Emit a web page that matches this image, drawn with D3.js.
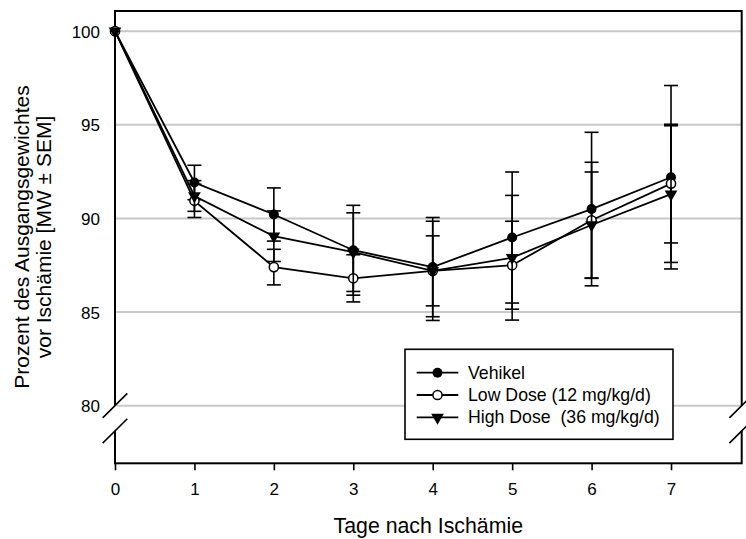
<!DOCTYPE html>
<html>
<head>
<meta charset="utf-8">
<script src="https://cdn.jsdelivr.net/npm/d3@7"></script>
<style>
  body { margin: 0; background: #fff; }
  svg text { font-family: "Liberation Sans", Arial, sans-serif; fill: #000; white-space: pre; }
</style>
</head>
<body>
<svg id="chart" width="746" height="539"></svg>
<script>
// days after ischemia
const days = [0, 1, 2, 3, 4, 5, 6, 7];

// body weight in percent of baseline (mean) and SEM per group
const vehikel     = [100, 91.92, 90.21, 88.30, 87.40, 88.98, 90.50, 92.20];
const vehikelSem  = [0, 0.92, 1.42, 2.40, 2.65, 3.50, 4.10, 4.90];
const lowDose     = [100, 90.94, 87.40, 86.80, 87.20, 87.50, 89.90, 91.86];
const lowDoseSem  = [0, 0.89, 0.95, 1.26, 1.87, 2.35, 3.10, 3.17];
const highDose    = [100, 91.20, 89.05, 88.20, 87.20, 87.90, 89.65, 91.30];
const highDoseSem = [0, 0.82, 1.35, 2.10, 2.65, 3.33, 2.83, 3.65];

const seriesNames = ["Vehikel", "Low Dose (12 mg/kg/d)", "High Dose  (36 mg/kg/d)"];
const yTicks = [80, 85, 90, 95, 100];
const xTicks = [0, 1, 2, 3, 4, 5, 6, 7];
// where the y axis is broken
const axisBreak = [80, 78.65];

const xLabel = "Tage nach Ischämie";
const yLabel = ["Prozent des Ausgangsgewichtes", "vor Ischämie [MW ± SEM]"];

const width = 746, height = 539;
const margin = { top: 11, right: 4.3, bottom: 75.7, left: 115 };

const svg = d3.select("#chart");

const x = d3.scaleLinear()
    .domain([0, 7.89])
    .range([margin.left, width - margin.right]);
const y = d3.scaleLinear()
    .domain([76.92, 101.08])
    .range([height - margin.bottom, margin.top]);

const series = [
    { name: seriesNames[0], values: vehikel, sem: vehikelSem, symbol: "filled" },
    { name: seriesNames[1], values: lowDose, sem: lowDoseSem, symbol: "open" },
    { name: seriesNames[2], values: highDose, sem: highDoseSem, symbol: "triangle" }
];

// gray gridlines
svg.append("g")
    .selectAll("line")
    .data(yTicks)
    .join("line")
    .attr("x1", x.range()[0])
    .attr("x2", x.range()[1])
    .attr("y1", d => y(d))
    .attr("y2", d => y(d))
    .attr("stroke", "#c8c8c8")
    .attr("stroke-width", 2);

// frame
svg.append("rect")
    .attr("x", x.range()[0])
    .attr("y", y.range()[1])
    .attr("width", x.range()[1] - x.range()[0])
    .attr("height", y.range()[0] - y.range()[1])
    .attr("fill", "none")
    .attr("stroke", "#000")
    .attr("stroke-width", 2);

// x axis, ticks point down
const xAxis = svg.append("g")
    .attr("transform", `translate(0,${y.range()[0]})`)
    .call(d3.axisBottom(x).tickValues(xTicks).tickSize(7).tickPadding(12.5).tickFormat(d3.format("d")));
xAxis.select(".domain").remove();
xAxis.selectAll(".tick line").attr("stroke-width", 1.6);
xAxis.selectAll("text").attr("font-size", "17px").attr("font-family", null);

// y axis labels only
const yAxis = svg.append("g")
    .attr("transform", `translate(${x.range()[0]},0)`)
    .call(d3.axisLeft(y).tickValues(yTicks).tickSize(0).tickPadding(15));
yAxis.select(".domain").remove();
yAxis.selectAll("text").attr("font-size", "17px").attr("font-family", null).attr("dy", "0.36em");

// axis breaks on both sides
const breakGap = svg.append("g");
[x.range()[0], x.range()[1]].forEach(bx => {
    breakGap.append("rect")
        .attr("x", bx - 2)
        .attr("y", y(axisBreak[0]))
        .attr("width", 4)
        .attr("height", y(axisBreak[1]) - y(axisBreak[0]))
        .attr("fill", "#fff");
    axisBreak.forEach(v => {
        breakGap.append("line")
            .attr("x1", bx - 12.3).attr("y1", y(v) + 12.2)
            .attr("x2", bx + 12.3).attr("y2", y(v) - 12.2)
            .attr("stroke", "#000")
            .attr("stroke-width", 1.6);
    });
});

const line = d3.line()
    .x((d, i) => x(days[i]))
    .y(d => y(d));

function drawSymbol(g, kind, cx, cy) {
    if (kind === "filled") {
        g.append("circle").attr("cx", cx).attr("cy", cy).attr("r", 5)
            .attr("fill", "#000");
    } else if (kind === "open") {
        g.append("circle").attr("cx", cx).attr("cy", cy).attr("r", 4.6)
            .attr("fill", "#fff").attr("stroke", "#000").attr("stroke-width", 1.5);
    } else {
        g.append("path")
            .attr("d", d3.symbol(d3.symbolTriangle, 70)())
            .attr("transform", `translate(${cx},${cy}) rotate(180)`)
            .attr("fill", "#000");
    }
}

const capHalf = 7;

series.forEach(s => {
    const g = svg.append("g");

    g.append("path")
        .datum(s.values)
        .attr("d", line)
        .attr("fill", "none")
        .attr("stroke", "#000")
        .attr("stroke-width", 1.8);

    // error bars with caps
    s.values.forEach((v, i) => {
        if (!s.sem[i]) return;
        const cx = x(days[i]);
        const top = y(v + s.sem[i]), bottom = y(v - s.sem[i]);
        g.append("line")
            .attr("x1", cx).attr("x2", cx)
            .attr("y1", top).attr("y2", bottom)
            .attr("stroke", "#000").attr("stroke-width", 1.6);
        [top, bottom].forEach(cy => {
            g.append("line")
                .attr("x1", cx - capHalf).attr("x2", cx + capHalf)
                .attr("y1", cy).attr("y2", cy)
                .attr("stroke", "#000").attr("stroke-width", 1.6);
        });
    });

    s.values.forEach((v, i) => drawSymbol(g, s.symbol, x(days[i]), y(v)));
});

// legend
const legend = svg.append("g");
legend.append("rect")
    .attr("x", 405).attr("y", 349.3)
    .attr("width", 268).attr("height", 90)
    .attr("fill", "#fff")
    .attr("stroke", "#000")
    .attr("stroke-width", 1.6);

series.forEach((s, i) => {
    const cy = 372.7 + i * 22.3;
    legend.append("line")
        .attr("x1", 416.7).attr("x2", 458.3)
        .attr("y1", cy).attr("y2", cy)
        .attr("stroke", "#000").attr("stroke-width", 1.8);
    drawSymbol(legend, s.symbol, 437.5, cy);
    legend.append("text")
        .attr("x", 468)
        .attr("y", cy)
        .attr("dy", "0.33em")
        .attr("font-size", "17.7px")
        .text(s.name);
});

// axis titles
svg.append("text")
    .attr("x", 428.3)
    .attr("y", 533.3)
    .attr("text-anchor", "middle")
    .attr("font-size", "21.3px")
    .text(xLabel);

svg.append("g")
    .attr("transform", "translate(0,237) rotate(-90)")
    .selectAll("text")
    .data(yLabel)
    .join("text")
    .attr("x", 0)
    .attr("y", (d, i) => 28.5 + i * 22.3)
    .attr("text-anchor", "middle")
    .attr("font-size", "21px")
    .text(d => d);
</script>
</body>
</html>
